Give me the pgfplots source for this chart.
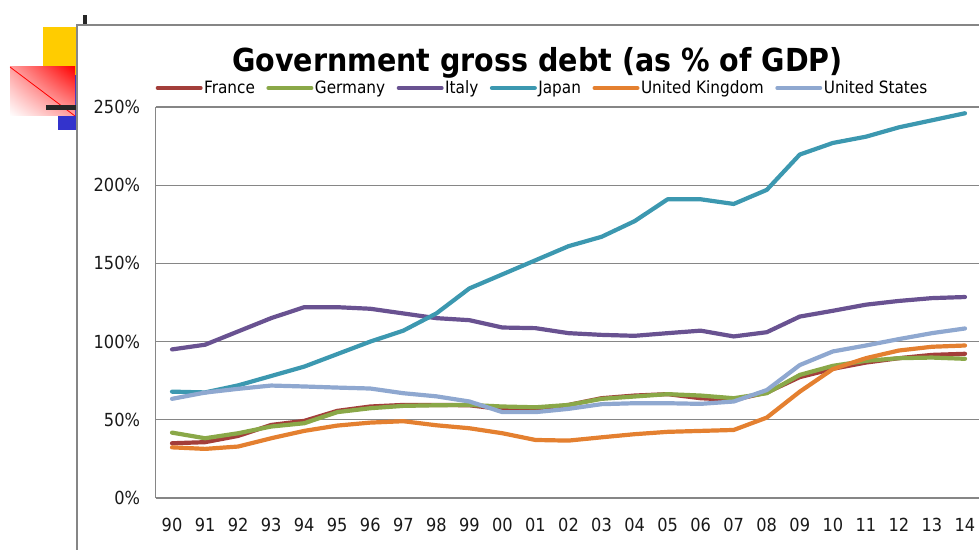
\documentclass[border=0pt]{standalone}
\usepackage{pgfplots}
\pgfplotsset{compat=1.18}
\usepackage{pgfplotstable}
\usetikzlibrary{shadings}
\usepackage{fontspec}
\setmainfont{DejaVu Sans Condensed}[BoldFont={DejaVu Sans Condensed Bold}]
\definecolor{cFR}{RGB}{163,62,58}
\definecolor{cDE}{RGB}{138,168,72}
\definecolor{cIT}{RGB}{105,82,145}
\definecolor{cJP}{RGB}{60,152,176}
\definecolor{cUK}{RGB}{228,128,48}
\definecolor{cUS}{RGB}{143,168,208}
\definecolor{gridgray}{RGB}{134,134,134}
\definecolor{yel}{RGB}{255,204,0}
\definecolor{blu}{RGB}{51,51,204}
\definecolor{pinkish}{RGB}{255,160,160}
\pgfplotstableread{
i  FR    DE    IT    JP    UK    US
0  35.0  41.8  95.0  68.0  32.4  63.4
1  35.7  38.2  98.0  67.5  31.4  67.4
2  39.7  41.4  106.5 72.0  32.9  69.8
3  46.7  45.7  115.0 78.0  38.2  71.9
4  49.3  47.8  122.0 84.0  42.9  71.3
5  55.7  54.9  122.0 92.0  46.3  70.6
6  58.5  57.4  121.0 100.0 48.2  70.0
7  59.5  58.9  118.0 107.0 49.1  67.0
8  59.5  59.3  115.0 118.0 46.5  65.0
9  59.3  59.5  113.7 134.0 44.6  61.7
10 56.8  58.5  109.0 143.0 41.4  54.9
11 56.5  58.0  108.6 152.0 37.1  54.9
12 59.5  59.5  105.4 161.0 36.7  57.0
13 63.8  63.4  104.3 167.0 38.8  60.0
14 65.5  64.9  103.7 177.0 40.8  60.6
15 66.4  66.4  105.4 191.0 42.3  60.6
16 63.8  65.5  107.0 191.0 42.9  60.2
17 62.7  63.8  103.3 188.0 43.5  61.7
18 67.4  67.0  106.0 197.0 51.4  69.0
19 77.3  78.7  116.0 219.6 68.0  85.0
20 82.6  84.5  119.7 227.0 82.4  93.7
21 86.6  87.7  123.6 231.0 89.4  97.5
22 89.4  89.4  126.0 237.0 94.3  101.6
23 91.5  89.8  127.8 241.5 96.7  105.4
24 92.2  89.0  128.5 246.0 97.5  108.4
}\debt
\begin{document}
\begin{tikzpicture}
\useasboundingbox (0pt,0pt) rectangle (979pt,549pt);
\begin{axis}[
  at={(155.5pt,51pt)}, anchor=south west,
  scale only axis, width=826pt, height=391pt,
  xmin=-0.5, xmax=24.5, ymin=0, ymax=250,
  axis x line=bottom, axis y line=left,
  axis line style={gridgray, line width=1.2pt, -},
  xtick={0,...,24},
  xticklabels={90,91,92,93,94,95,96,97,98,99,00,01,02,03,04,05,06,07,08,09,10,11,12,13,14},
  ytick={0,50,100,150,200,250},
  yticklabel={\pgfmathprintnumber{\tick}\%},
  major tick length=0pt,
  ymajorgrids, grid style={gridgray, line width=1.2pt},
  tick label style={font=\fontsize{18}{21}\selectfont, black!90},
  xticklabel style={yshift=-17pt},
  yticklabel style={xshift=-12pt},
  /pgf/number format/assume math mode=true,
  clip=false,
  legend columns=6,
  legend style={at={(0,1.0486)}, anchor=west, draw=none, fill=none,
    font=\fontsize{17}{20}\selectfont, inner sep=0pt,
    /tikz/every even column/.append style={column sep=10pt},
    nodes={inner sep=1.5pt}},
  legend image code/.code={\draw[#1, line width=4pt] (0pt,0pt) -- (43pt,0pt);},
  every axis plot/.append style={line width=4.2pt, line join=round, line cap=round},
]
\addplot[cFR] table[x=i,y=FR] {\debt};
\addlegendentry{France}
\addplot[cDE] table[x=i,y=DE] {\debt};
\addlegendentry{Germany}
\addplot[cIT] table[x=i,y=IT] {\debt};
\addlegendentry{Italy}
\addplot[cJP] table[x=i,y=JP] {\debt};
\addlegendentry{Japan}
\addplot[cUK] table[x=i,y=UK] {\debt};
\addlegendentry{United Kingdom}
\addplot[cUS] table[x=i,y=US] {\debt};
\addlegendentry{United States}
\end{axis}
\begin{scope}[x=1pt,y=1pt]
\fill[yel] (43,549-27) rectangle (77,549-75);
\fill[blu] (58,549-75) rectangle (77,549-130);
\shade[lower left=white, upper right=red, lower right=pinkish, upper left=pinkish] (10,549-67) rectangle (75,549-116);
\draw[red, line width=0.8pt] (10,549-67) -- (75,549-116);
\fill[black!85] (46,549-105) rectangle (77,549-110);
\fill[black!85] (83,549-15) rectangle (87,549-25);
\draw[gridgray, line width=2.5pt] (77,-5) -- (77,549-25) -- (990,549-25);
\node[font=\bfseries\fontsize{31.7}{36}\selectfont, anchor=base] at (537.5,549-72) {Government gross debt (as \% of GDP)};
\end{scope}
\end{tikzpicture}
\end{document}
